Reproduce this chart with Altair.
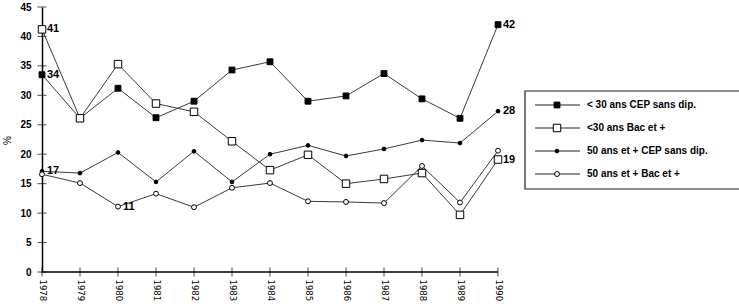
import altair as alt
import pandas as pd

years = list(range(1978, 1991))
series_names = ["< 30 ans CEP sans dip.", "<30 ans Bac et +",
                "50 ans et + CEP sans dip.", "50 ans et + Bac et +"]
s1 = [33.5, 26.1, 31.2, 26.2, 29.0, 34.3, 35.7, 29.0, 29.9, 33.7, 29.4, 26.1, 42.0]
s2 = [41.2, 26.1, 35.3, 28.6, 27.2, 22.2, 17.3, 19.9, 15.0, 15.8, 16.8, 9.7, 19.1]
s3 = [17.1, 16.8, 20.3, 15.3, 20.5, 15.3, 20.0, 21.5, 19.7, 20.9, 22.4, 21.9, 27.3]
s4 = [16.6, 15.1, 11.1, 13.3, 11.0, 14.3, 15.1, 12.0, 11.9, 11.7, 18.0, 11.8, 20.6]
legend_labels = ["<  30 ans CEP sans dip.", "<30 ans Bac et  +",
                 "50 ans et  +  CEP sans dip.", "50 ans et  +  Bac et  +"]
y_ticks = [0, 5, 10, 15, 20, 25, 30, 35, 40, 45]
annot_series = [1, 0, 2, 3, 0, 2, 1]
annot_years = [1978, 1978, 1978, 1980, 1990, 1990, 1990]
annot_text = ["41", "34", "17", "11", "42", "28", "19"]

all_series = [s1, s2, s3, s4]
rows = []
for name, vals in zip(series_names, all_series):
    for yr, v in zip(years, vals):
        rows.append({"year": yr, "value": v, "series": name})
df = pd.DataFrame(rows)

ann = pd.DataFrame({
    "year": annot_years,
    "value": [all_series[s][years.index(y)] for s, y in zip(annot_series, annot_years)],
    "text": annot_text,
})

# layout
PLOT_W, PLOT_H = 697, 265
xmax = years[0] + (years[-1] - years[0]) * PLOT_W / 456.0
FONT = "Liberation Sans"
NARROW = "Liberation Sans Narrow, DejaVu Sans Condensed, sans-serif"

styles = [
    dict(shape="square", size=34, fill="black"),
    dict(shape="square", size=56, fill="white"),
    dict(shape="circle", size=14, fill="black"),
    dict(shape="circle", size=24, fill="white"),
]

xscale = alt.Scale(domain=[years[0], xmax], nice=False, zero=False)
yscale = alt.Scale(domain=[0, 45], nice=False)

xaxis = alt.Axis(values=years, format="d", labelAngle=90, domain=False,
                 ticks=False, grid=False, title=None, labelFont=NARROW,
                 labelFontSize=9.5, labelPadding=7, labelColor="black",
                 labelOverlap=False)
yaxis = alt.Axis(values=y_ticks, domain=True, domainColor="black",
                 domainWidth=1.5, ticks=False, grid=False, labelPadding=11,
                 labelFont=FONT, labelFontSize=10, labelFontWeight="bold",
                 labelColor="black", labelOverlap=False, title="%", titleFont=FONT,
                 titleFontSize=10, titleFontWeight="normal",
                 titleX=-30, titleY=133)


def X(field="year:Q"):
    return alt.X(field, scale=xscale, axis=xaxis, title=None)


def Y(field="value:Q"):
    return alt.Y(field, scale=yscale, axis=yaxis, title="%")


lines = alt.Chart(df).mark_line(color="#3a3a3a", strokeWidth=1).encode(
    x=X(), y=Y(), detail="series:N")

layers = [lines]
for name, st in zip(series_names, styles):
    layers.append(
        alt.Chart(df).transform_filter(alt.datum.series == name).mark_point(
            shape=st["shape"], size=st["size"], filled=True, fill=st["fill"],
            stroke="black", strokeWidth=1, opacity=1
        ).encode(x=X(), y=Y())
    )

yt = alt.Chart(pd.DataFrame({"year": [years[0]] * len(y_ticks), "value": y_ticks})).mark_tick(
    orient="horizontal", size=9, thickness=1, color="black"
).encode(x=X(), y=Y())
xt = alt.Chart(pd.DataFrame({"year": years, "value": [0] * len(years)})).mark_tick(
    orient="vertical", size=9, thickness=1, color="black"
).encode(x=X(), y=Y())
xaxis_line = alt.Chart(pd.DataFrame({"year": [years[0]], "year2": [years[-1]],
                                     "value": [0]})).mark_rule(
    color="black", strokeWidth=1.5
).encode(x=X(), x2="year2:Q", y=Y())

labels = alt.Chart(ann).mark_text(
    align="left", baseline="middle", dx=5, font=FONT, fontSize=11,
    fontWeight="bold", color="black"
).encode(x=X(), y=Y(), text="text:N")

layers += [yt, xt, xaxis_line, labels]

# legend box (drawn manually, pixel layout)
one = pd.DataFrame({"k": [0]})
layers.append(alt.Chart(one).mark_rect(fill="white", stroke="#222", strokeWidth=1.2).encode(
    x=alt.value(483), x2=alt.value(705), y=alt.value(84), y2=alt.value(182)))
for i, (lab, st) in enumerate(zip(legend_labels, styles)):
    ry = 98 + 23 * i
    layers.append(alt.Chart(one).mark_rule(color="#222", strokeWidth=1).encode(
        x=alt.value(493), x2=alt.value(538), y=alt.value(ry)))
    layers.append(alt.Chart(one).mark_point(
        shape=st["shape"], size=st["size"], filled=True, fill=st["fill"],
        stroke="black", strokeWidth=1, opacity=1
    ).encode(x=alt.value(515), y=alt.value(ry)))
    layers.append(alt.Chart(pd.DataFrame({"label": [lab]})).mark_text(
        align="left", baseline="middle", font=FONT, fontSize=10, fontWeight="bold",
        color="black"
    ).encode(x=alt.value(545), y=alt.value(ry), text="label:N"))

chart = alt.layer(*layers).properties(
    width=PLOT_W, height=PLOT_H,
    padding={"left": 42, "top": 7, "right": 0, "bottom": 36},
    autosize=alt.AutoSizeParams(type="none"),
    background="white",
).configure_view(stroke=None)

chart.save("out.html", embed_options={"renderer": "svg", "actions": False})
